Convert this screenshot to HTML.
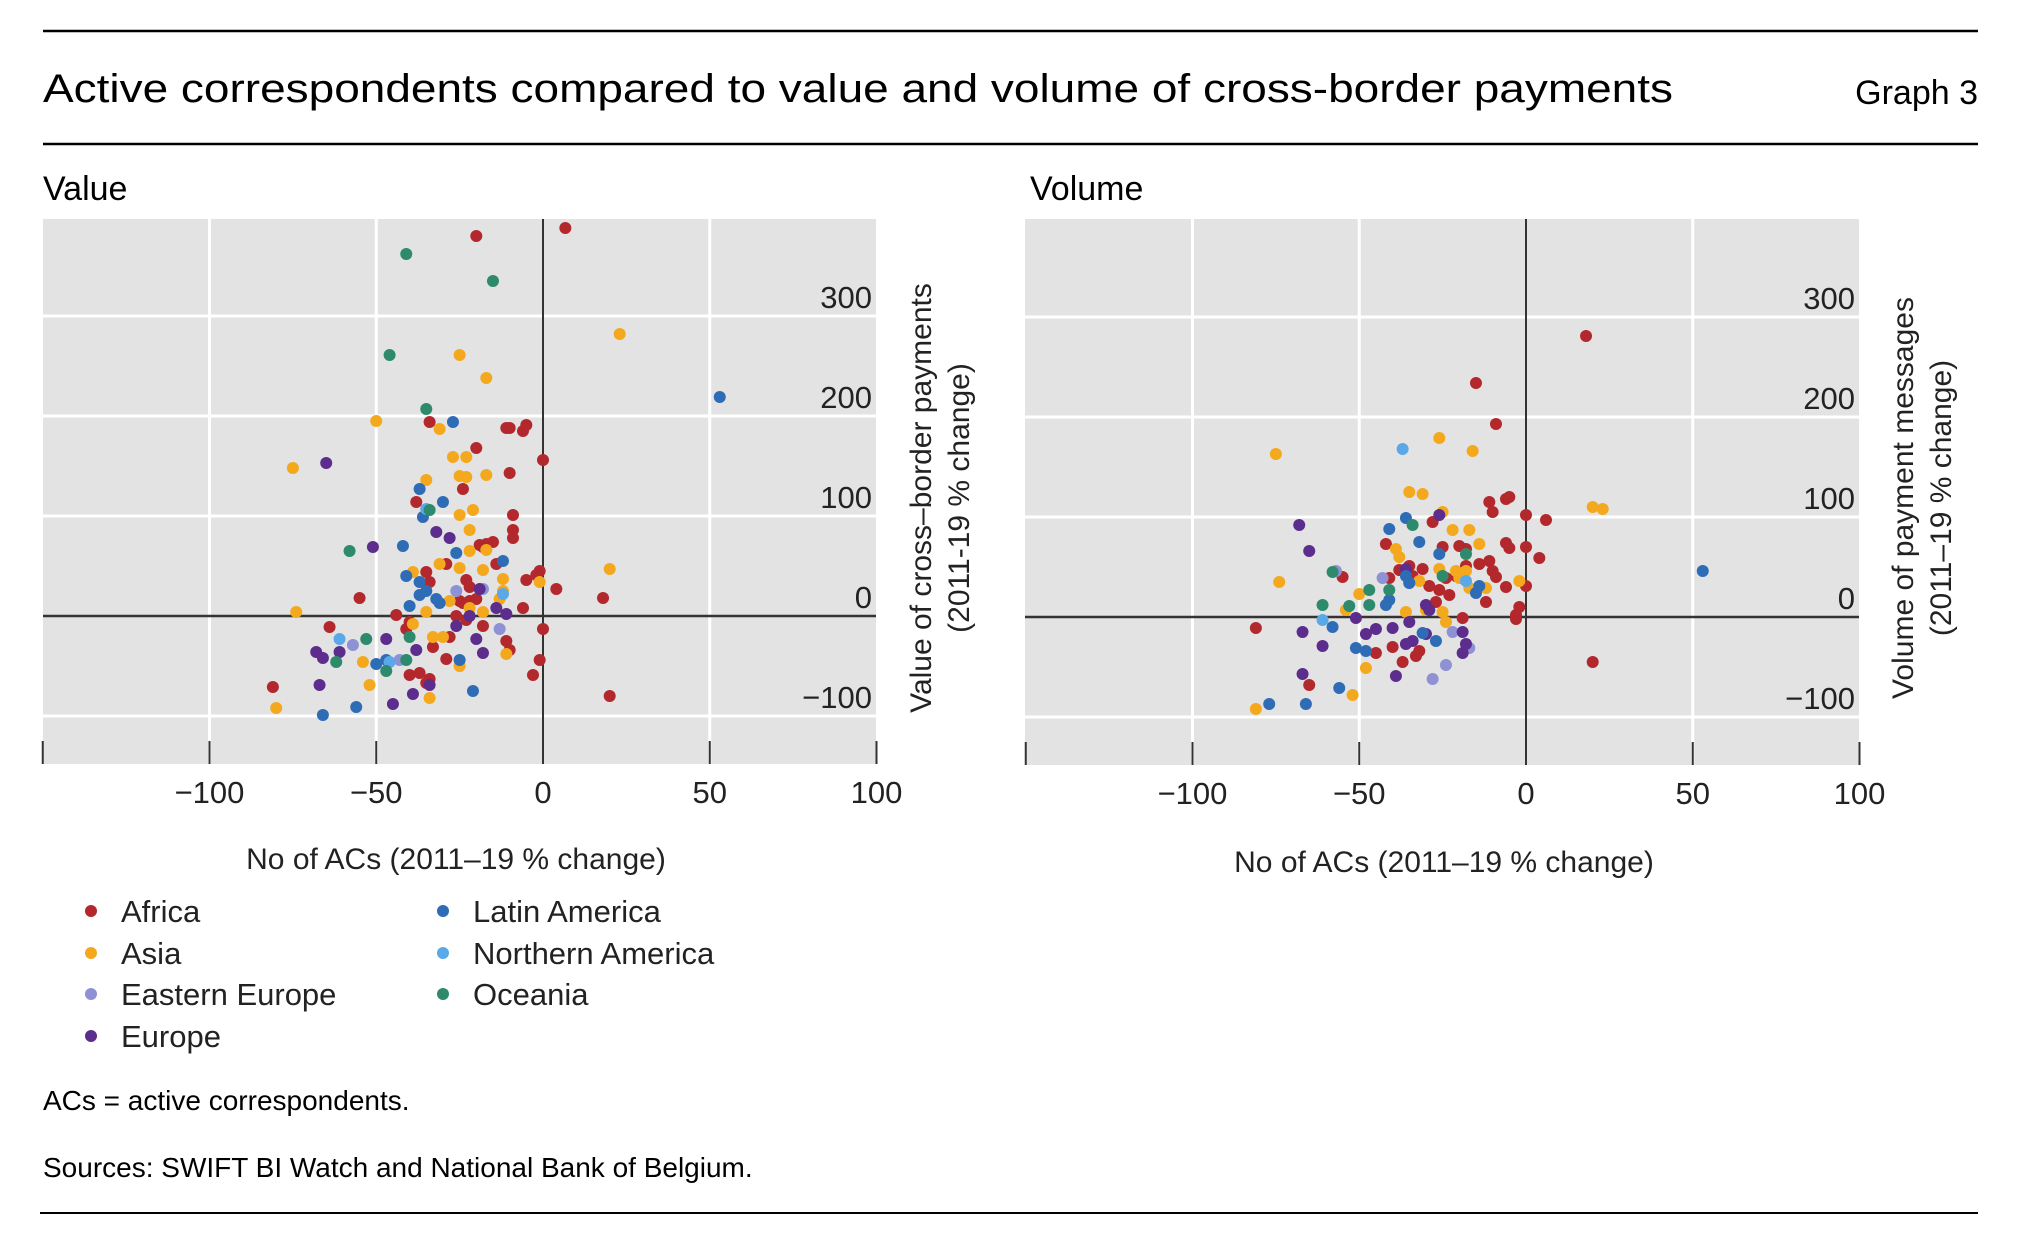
<!DOCTYPE html>
<html><head><meta charset="utf-8"><style>
html,body{margin:0;padding:0;background:#fff;}
svg{display:block;font-family:"Liberation Sans",sans-serif;}
</style></head><body>
<svg id="chart" width="2022" height="1234" viewBox="0 0 2022 1234" xmlns="http://www.w3.org/2000/svg">
<line x1="43" y1="31" x2="1978" y2="31" stroke="#000" stroke-width="2.5"/>
<text x="43" y="102" font-size="40" textLength="1630" lengthAdjust="spacingAndGlyphs" fill="#000">Active correspondents compared to value and volume of cross-border payments</text>
<text x="1978" y="104" font-size="34" text-anchor="end" fill="#000">Graph 3</text>
<line x1="43" y1="144" x2="1978" y2="144" stroke="#000" stroke-width="2.5"/>
<text x="43" y="200" font-size="34" fill="#000">Value</text>
<text x="1030" y="200" font-size="34" fill="#000">Volume</text>
<g id="p1"></g>
<g id="p2"></g>
<text x="456" y="869" font-size="30" text-anchor="middle" fill="#222">No of ACs (2011–19 % change)</text>
<text x="1444" y="872" font-size="30" text-anchor="middle" fill="#222">No of ACs (2011–19 % change)</text>
<g id="legend"></g>
<text x="43" y="1110" font-size="28" fill="#000">ACs = active correspondents.</text>
<text x="43" y="1177" font-size="28" fill="#000">Sources: SWIFT BI Watch and National Bank of Belgium.</text>
<line x1="40" y1="1213" x2="1978" y2="1213" stroke="#000" stroke-width="2"/>
</svg>
<script>
const xTicks = [-100, -50, 0, 50, 100];
const yTicks = [-100, 0, 100, 200, 300];
const regions = ["Africa","Asia","Eastern Europe","Europe","Latin America","Northern America","Oceania"];
const regionColors = ["#b3282d","#f4a81d","#8e91d4","#5c2d8c","#2f6cb6","#5aa8e8","#2e8a6c"];

const valueAfrica = [[6.7,388],[-20,380],[-34,194],[-11,188],[-10,188],[-6,185],[-5,191],[-20,168],[0,156],[-10,143],[-38,114],[-24,127],[-9,101],[-9,86],[-9,78],[-19,71],[-17,72],[-15,74],[-18,69],[-1,45],[-2,41],[4,27],[18,18],[-55,18],[-44,1],[-64,-11],[-40,-6],[-35,44],[-29,52],[-34,34],[-23,36],[-22,29],[-25,15],[-24,13],[-22,15],[-20,17],[-14,52],[-5,36],[-6,8],[-18,-10],[-11,-25],[-10,-34],[0,-13],[-1,-44],[-3,-59],[20,-80],[-81,-71],[-40,-59],[-37,-57],[-34,-63],[-35,-67],[-29,-43],[-33,-31],[-28,-21],[-41,-13],[-26,0],[-23,-4]];
const valueAsia = [[23,282],[-25,261],[-17,238],[-50,195],[-31,187],[-27,159],[-23,159],[-75,148],[-25,140],[-23,139],[-17,141],[-35,136],[-21,106],[-25,101],[-22,86],[-22,65],[-17,66],[20,47],[-1,34],[-12,37],[-18,46],[-25,48],[-39,44],[-28,15],[-22,8],[-18,4],[-13,17],[-12,25],[-74,4],[-35,4],[-39,-8],[-33,-21],[-30,-21],[-11,-38],[-54,-46],[-25,-50],[-52,-69],[-34,-82],[-80,-92],[-31,52]];
const valueEastEurope = [[-18,27],[-13,-13],[-57,-29],[-43,-44],[-26,25]];
const valueEurope = [[-65,153],[-51,69],[-32,84],[-28,78],[-19,27],[-14,8],[-11,2],[-47,-23],[-68,-36],[-66,-42],[-61,-36],[-38,-34],[-18,-37],[-20,-23],[-67,-69],[-45,-88],[-39,-78],[-34,-69],[-26,-10],[-22,0]];
const valueLatAm = [[53,219],[-27,194],[-37,127],[-30,114],[-36,99],[-42,70],[-26,63],[-12,55],[-37,34],[-35,25],[-37,21],[-40,10],[-32,17],[-31,13],[-41,40],[-50,-48],[-25,-44],[-21,-75],[-56,-91],[-66,-99],[-47,-44]];
const valueNorthAm = [[-61,-23],[-12,22],[-35,107],[-46,-46]];
const valueOceania = [[-41,362],[-15,335],[-46,261],[-35,207],[-58,65],[-34,106],[-53,-23],[-62,-46],[-47,-55],[-40,-21],[-41,-44]];

const volAfrica = [[18,281],[-15,234],[-9,193],[-11,115],[-10,105],[-6,118],[-5,120],[0,102],[6,97],[-42,73],[-28,95],[-6,74],[-5,69],[0,70],[4,59],[0,31],[-6,30],[-10,46],[-9,40],[-11,56],[-41,39],[-38,47],[-35,51],[-55,40],[-25,70],[-20,71],[-18,68],[-29,31],[-26,27],[-23,22],[-27,15],[-24,39],[-21,41],[-12,15],[-2,10],[-3,2],[-3,-2],[-19,-1],[-81,-11],[20,-45],[-65,-68],[-45,-36],[-40,-30],[-37,-45],[-33,-39],[-32,-34],[-34,41],[-31,48],[-18,51],[-14,53]];
const volAsia = [[-75,163],[-26,179],[-16,166],[-35,125],[-31,123],[20,110],[23,108],[-25,105],[-22,87],[-17,87],[-14,73],[-39,68],[-38,60],[-74,35],[-50,23],[-54,7],[-32,36],[-26,48],[-21,46],[-20,39],[-18,46],[-17,29],[-12,29],[-2,36],[-30,7],[-25,5],[-24,-5],[-48,-51],[-52,-78],[-81,-92],[-36,5]];
const volEastEurope = [[-57,46],[-43,39],[-22,-15],[-17,-31],[-24,-48],[-28,-62],[-35,34]];
const volEurope = [[-68,92],[-65,66],[-51,-1],[-48,-17],[-45,-12],[-40,-11],[-35,-5],[-67,-15],[-61,-29],[-67,-57],[-39,-59],[-30,-17],[-29,7],[-26,102],[-19,-15],[-18,-27],[-19,-36],[-36,48],[-30,12],[-34,-24],[-36,-27]];
const volLatAm = [[53,46],[-41,88],[-36,99],[-32,75],[-26,63],[-42,12],[-41,17],[-36,41],[-35,34],[-58,-10],[-51,-31],[-48,-34],[-31,-16],[-27,-24],[-56,-71],[-66,-87],[-77,-87],[-14,31],[-15,24]];
const volNorthAm = [[-37,168],[-61,-3],[-18,36]];
const volOceania = [[-61,12],[-58,45],[-53,11],[-47,12],[-47,27],[-41,27],[-34,92],[-25,41],[-18,63]];

const valueSeries = [valueAfrica, valueAsia, valueEastEurope, valueEurope, valueLatAm, valueNorthAm, valueOceania];
const volumeSeries = [volAfrica, volAsia, volEastEurope, volEurope, volLatAm, volNorthAm, volOceania];

const NS = "http://www.w3.org/2000/svg";
function mk(tag, attrs, parent){const e=document.createElementNS(NS,tag);for(const k in attrs)e.setAttribute(k,attrs[k]);parent.appendChild(e);return e;}

function drawPanel(g, cfg, series, panelName){
  const sx = v => cfg.x0 + v*cfg.kx;
  const sy = v => cfg.y0 - v*cfg.ky;
  const bg = mk("rect",{x:cfg.left,y:cfg.top,width:cfg.right-cfg.left,height:cfg.bottom-cfg.top,fill:"#e3e3e3"},g);
  
  
  [-100,0,100,200,300].forEach(v=>{ if(v!==0){const l=mk("line",{x1:cfg.left,x2:cfg.right,y1:sy(v),y2:sy(v),stroke:"#fff","stroke-width":3},g);
    
    }});
  xTicks.forEach(v=>{ if(v!==0 && v!==100){const l=mk("line",{x1:sx(v),x2:sx(v),y1:cfg.top,y2:cfg.bottom,stroke:"#fff","stroke-width":3},g);
    
    }});
  [-150,-100,-50,50,100].forEach(v=>{const t=mk("line",{x1:sx(v),x2:sx(v),y1:cfg.bottom-23,y2:cfg.bottom,stroke:"#333","stroke-width":2},g);
    
    });
  const zx = mk("line",{x1:sx(0),x2:sx(0),y1:cfg.top,y2:cfg.bottom,stroke:"#333","stroke-width":2},g);
  
  
  const zy = mk("line",{x1:cfg.left,x2:cfg.right,y1:sy(0),y2:sy(0),stroke:"#333","stroke-width":2.5},g);
  
  
  series.forEach((pts,i)=>{
    pts.forEach(p=>{
      const c = mk("circle",{cx:sx(p[0]),cy:sy(p[1]),r:6,fill:regionColors[i]},g);
      
      
    });
  });
  xTicks.forEach(v=>{
    const t = mk("text",{x:sx(v),y:cfg.bottom+39,"font-size":31,"text-anchor":"middle",fill:"#222"},g);
    t.textContent = v<0 ? "−"+Math.abs(v) : String(v);
    
    
  });
  yTicks.forEach(v=>{
    const t = mk("text",{x:cfg.right-4,y:sy(v)-8,"font-size":31,"text-anchor":"end",fill:"#222"},g);
    t.textContent = v<0 ? "−"+Math.abs(v) : String(v);
    
    
  });
  const yt = mk("text",{transform:`translate(${cfg.titleX},498) rotate(-90)`,"font-size":30,"text-anchor":"middle",fill:"#222"},g);
  
  
  const t1 = mk("tspan",{x:0,y:0},yt); t1.textContent = cfg.title1;
  const t2 = mk("tspan",{x:0,y:38},yt); t2.textContent = cfg.title2;
}

drawPanel(document.getElementById("p1"),{left:43,right:876,top:219,bottom:764,x0:543,kx:3.335,y0:616,ky:1,titleX:931,title1:"Value of cross–border payments",title2:"(2011-19 % change)"},valueSeries,"value");
drawPanel(document.getElementById("p2"),{left:1025,right:1859,top:219,bottom:765,x0:1526,kx:3.335,y0:617,ky:1,titleX:1913,title1:"Volume of payment messages",title2:"(2011–19 % change)"},volumeSeries,"volume");

const leg = document.getElementById("legend");
const legendPos = [[91,911],[91,953],[91,994],[91,1036],[443,911],[443,953],[443,994]];
regions.forEach((r,i)=>{
  const g = mk("g",{},leg);
  
  
  mk("circle",{cx:legendPos[i][0],cy:legendPos[i][1],r:6,fill:regionColors[i]},g);
  const t = mk("text",{x:legendPos[i][0]+30,y:legendPos[i][1]+11,"font-size":31,fill:"#222"},g);
  t.textContent = r;
});
</script>
</body></html>
